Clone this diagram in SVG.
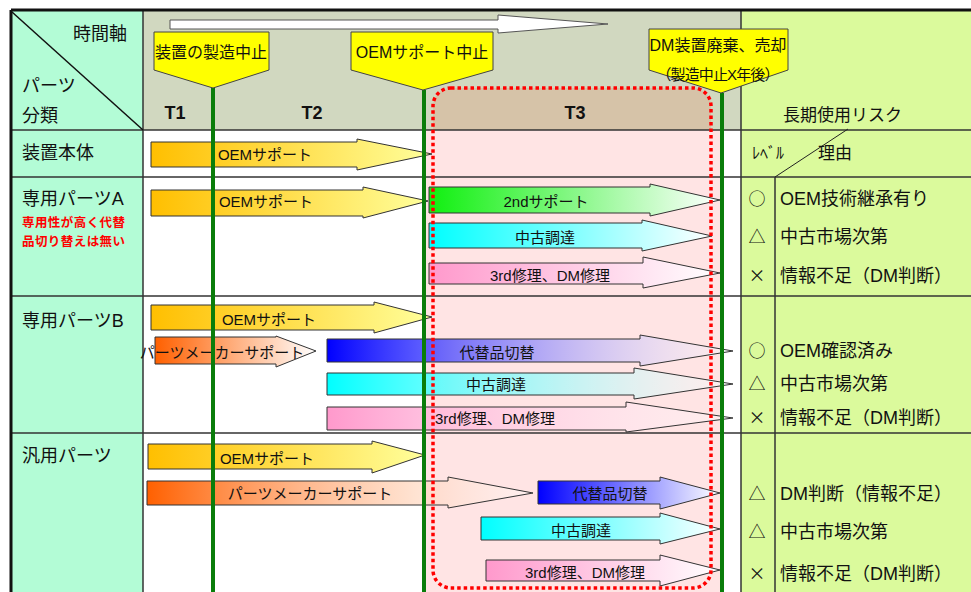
<svg xmlns="http://www.w3.org/2000/svg" width="971" height="592" viewBox="0 0 971 592">
<style>
text{font-family:"Liberation Sans","Noto Sans CJK JP",sans-serif;fill:#111}
.lbl{font-size:18px}
.al{font-size:15px;text-anchor:middle}
.co{font-size:16px;text-anchor:middle}
.red{font-size:12.5px;font-weight:bold;fill:#ff0000}
.t{font-size:18px;font-weight:bold;text-anchor:middle}
.rk{font-size:18px}
.sym{font-family:"Noto Sans CJK JP",sans-serif;font-size:17px;text-anchor:middle}
.arr{stroke:#333;stroke-width:1}
.row{stroke:#333;stroke-width:1.5}
.grn{stroke:#0a7d0a;stroke-width:4}
.call{fill:#ffff00;stroke:#444;stroke-width:1}
</style>
<defs>
<linearGradient id="gOem"><stop offset="0" stop-color="#ffbf00"/><stop offset="1" stop-color="#ffff9c"/></linearGradient>
<linearGradient id="gGrn"><stop offset="0" stop-color="#10f010"/><stop offset="1" stop-color="#ffffff"/></linearGradient>
<linearGradient id="gCyan"><stop offset="0" stop-color="#00ffff"/><stop offset="1" stop-color="#ffffff"/></linearGradient>
<linearGradient id="gPink"><stop offset="0" stop-color="#ff99cc"/><stop offset="1" stop-color="#ffffff"/></linearGradient>
<linearGradient id="gOrg"><stop offset="0" stop-color="#ff6000"/><stop offset="1" stop-color="#ffffff"/></linearGradient>
<linearGradient id="gOrgT"><stop offset="0" stop-color="#ff6000"/><stop offset="1" stop-color="#ffffff" stop-opacity="0.4"/></linearGradient>
<linearGradient id="gBlue"><stop offset="0" stop-color="#0000ff"/><stop offset="1" stop-color="#ffffff"/></linearGradient>
<linearGradient id="gBlueT"><stop offset="0" stop-color="#0000ff"/><stop offset="1" stop-color="#ffffff" stop-opacity="0.3"/></linearGradient>
<linearGradient id="gCyanT"><stop offset="0" stop-color="#00ffff"/><stop offset="1" stop-color="#ffffff" stop-opacity="0.3"/></linearGradient>
<linearGradient id="gPinkT"><stop offset="0" stop-color="#ff99cc"/><stop offset="1" stop-color="#ffffff" stop-opacity="0.3"/></linearGradient>
</defs>

<!-- backgrounds -->
<rect x="0" y="0" width="971" height="592" fill="#ffffff"/>
<rect x="11" y="10" width="132" height="582" fill="#b3fcd6"/>
<rect x="143" y="10" width="598" height="120" fill="#d1d8c0"/>
<rect x="741" y="10" width="230" height="582" fill="#dbfa9c"/>
<rect x="433" y="88" width="278" height="100" rx="18" fill="#d6c3a8"/>
<rect x="424" y="130" width="298" height="462" fill="#ffe4e4"/>

<!-- grid -->
<g id="grid">
<line x1="11" y1="130" x2="971" y2="130" class="row"/>
<line x1="11" y1="177" x2="971" y2="177" class="row"/>
<line x1="11" y1="296" x2="971" y2="296" class="row"/>
<line x1="11" y1="433" x2="971" y2="433" class="row"/>
<line x1="143" y1="10" x2="143" y2="592" class="row"/>
<line x1="741" y1="10" x2="741" y2="592" class="row"/>
<line x1="775" y1="177" x2="775" y2="592" class="row"/>
<line x1="775" y1="177" x2="848" y2="129" stroke="#222" stroke-width="1"/>
<line x1="12" y1="12" x2="143" y2="130" stroke="#111" stroke-width="1.5"/>
<line x1="11" y1="10" x2="971" y2="10" stroke="#111" stroke-width="3"/>
<line x1="11" y1="10" x2="11" y2="592" stroke="#111" stroke-width="3"/>
</g>

<!-- header labels -->
<g id="hdr-left">
<text class="lbl" x="73" y="40">時間軸</text>
<text class="lbl" x="22" y="92">パーツ</text>
<text class="lbl" x="22" y="122">分類</text>
</g>
<g id="hdr-t">
<text class="t" x="175" y="119">T1</text>
<text class="t" x="312" y="119">T2</text>
<text class="t" x="575" y="119">T3</text>
</g>
<g id="hdr-right">
<text x="783" y="121" style="font-size:17px">長期使用リスク</text>
<text x="752" y="159" style="font-size:16px">ﾚﾍﾞﾙ</text>
<text x="818" y="159" style="font-size:17px">理由</text>
</g>

<!-- row labels -->
<g id="row-device"><text class="lbl" x="22" y="159">装置本体</text></g>
<g id="row-a">
<text class="lbl" x="22" y="205">専用パーツA</text>
<text class="red" x="22" y="227" textLength="103">専用性が高く代替</text>
<text class="red" x="22" y="246" textLength="103">品切り替えは無い</text>
</g>
<g id="row-b"><text class="lbl" x="22" y="327">専用パーツB</text></g>
<g id="row-g"><text class="lbl" x="22" y="462">汎用パーツ</text></g>

<!-- arrows -->
<g id="dev-oem"><path class="arr" fill="url(#gOem)" d="M151 142H357V139L432 154L357 170V167H151Z"/><text class="al" x="265" y="160">OEMサポート</text></g>

<g id="a-oem"><path class="arr" fill="url(#gOem)" d="M151 190H363V187L428 201L363 218V216H151Z"/><text class="al" x="266" y="207">OEMサポート</text></g>
<g id="a-2nd"><path class="arr" fill="url(#gGrn)" d="M429 187H650V184L720 200L650 216V213H429Z"/><text class="al" x="546" y="207">2ndサポート</text></g>
<g id="a-used"><path class="arr" fill="url(#gCyan)" d="M429 223H642V220L712 236L642 251V248H429Z"/><text class="al" x="545" y="243">中古調達</text></g>
<g id="a-3rd"><path class="arr" fill="url(#gPink)" d="M429 263H643V257L720 273L643 288V284H429Z"/><text class="al" x="550" y="281">3rd修理、DM修理</text></g>

<g id="b-oem"><path class="arr" fill="url(#gOem)" d="M151 305H374V302L432 317L374 333V330H151Z"/><text class="al" x="269" y="325">OEMサポート</text></g>
<g id="b-maker"><path class="arr" fill="url(#gOrg)" d="M155 337H276V336L316 351L276 367V364H155Z"/><text class="al" x="222" y="358">パーツメーカーサポート</text></g>
<g id="b-alt"><path class="arr" fill="url(#gBlueT)" d="M327 339H640V335L733 351L640 366V362H327Z"/><text class="al" x="497" y="358">代替品切替</text></g>
<g id="b-used"><path class="arr" fill="url(#gCyanT)" d="M327 373H634V368L733 384L634 399V395H327Z"/><text class="al" x="496" y="390">中古調達</text></g>
<g id="b-3rd"><path class="arr" fill="url(#gPinkT)" d="M327 407H626V402L733 418L626 432V430H327Z"/><text class="al" x="495" y="424">3rd修理、DM修理</text></g>

<g id="g-oem"><path class="arr" fill="url(#gOem)" d="M148 444H372V441L425 455L372 473V469H148Z"/><text class="al" x="267" y="464">OEMサポート</text></g>
<g id="g-maker"><path class="arr" fill="url(#gOrgT)" d="M147 481H448V477L533 493L448 508V505H147Z"/><text class="al" x="310" y="499">パーツメーカーサポート</text></g>
<g id="g-alt"><path class="arr" fill="url(#gBlue)" d="M538 481H660V477L720 493L660 509V504H538Z"/><text class="al" x="610" y="499">代替品切替</text></g>
<g id="g-used"><path class="arr" fill="url(#gCyan)" d="M481 517H660V513L720 529L660 544V540H481Z"/><text class="al" x="581" y="536">中古調達</text></g>
<g id="g-3rd"><path class="arr" fill="url(#gPink)" d="M486 560H660V555L720 570L660 586V581H486Z"/><text class="al" x="585" y="578">3rd修理、DM修理</text></g>

<!-- connectors: timeline, milestone lines, T3 frame -->
<g id="connectors">
<path d="M170 20H498V15L608 24L498 33V29H170Z" fill="#ffffff" stroke="#555" stroke-width="1"/>
<line x1="213" y1="88" x2="213" y2="592" class="grn"/>
<line x1="424" y1="90" x2="424" y2="592" class="grn"/>
<line x1="722" y1="93" x2="722" y2="592" class="grn"/>
<rect x="433" y="88" width="278" height="500" rx="18" fill="none" stroke="#ff0000" stroke-width="3.5" stroke-dasharray="3.5 3"/>
</g>

<!-- milestone callouts -->
<g id="ms-stop"><path class="call" d="M154 32H269V70L213 88L154 70Z"/><text class="co" x="211" y="58">装置の製造中止</text></g>
<g id="ms-oem"><path class="call" d="M351 32H493V70L423 90L351 70Z"/><text class="co" x="422" y="58">OEMサポート中止</text></g>
<g id="ms-dm"><path class="call" d="M649 29H788V70L721 93L649 70Z"/><text class="co" x="718" y="51">DM装置廃棄、売却</text><text class="co" x="718" y="80" style="font-size:15px" textLength="123">（製造中止X年後）</text></g>

<!-- risk column -->
<g id="risk-a">
<text class="sym" x="757" y="205">○</text><text class="rk" x="780" y="205">OEM技術継承有り</text>
<text class="sym" x="757" y="243">△</text><text class="rk" x="780" y="243">中古市場次第</text>
<text class="sym" x="757" y="282">×</text><text class="rk" x="780" y="282">情報不足（DM判断）</text>
</g>
<g id="risk-b">
<text class="sym" x="757" y="357">○</text><text class="rk" x="780" y="357">OEM確認済み</text>
<text class="sym" x="757" y="390">△</text><text class="rk" x="780" y="390">中古市場次第</text>
<text class="sym" x="757" y="424">×</text><text class="rk" x="780" y="424">情報不足（DM判断）</text>
</g>
<g id="risk-g">
<text class="sym" x="757" y="500">△</text><text class="rk" x="780" y="500">DM判断（情報不足）</text>
<text class="sym" x="757" y="538">△</text><text class="rk" x="780" y="538">中古市場次第</text>
<text class="sym" x="757" y="580">×</text><text class="rk" x="780" y="580">情報不足（DM判断）</text>
</g>
</svg>
